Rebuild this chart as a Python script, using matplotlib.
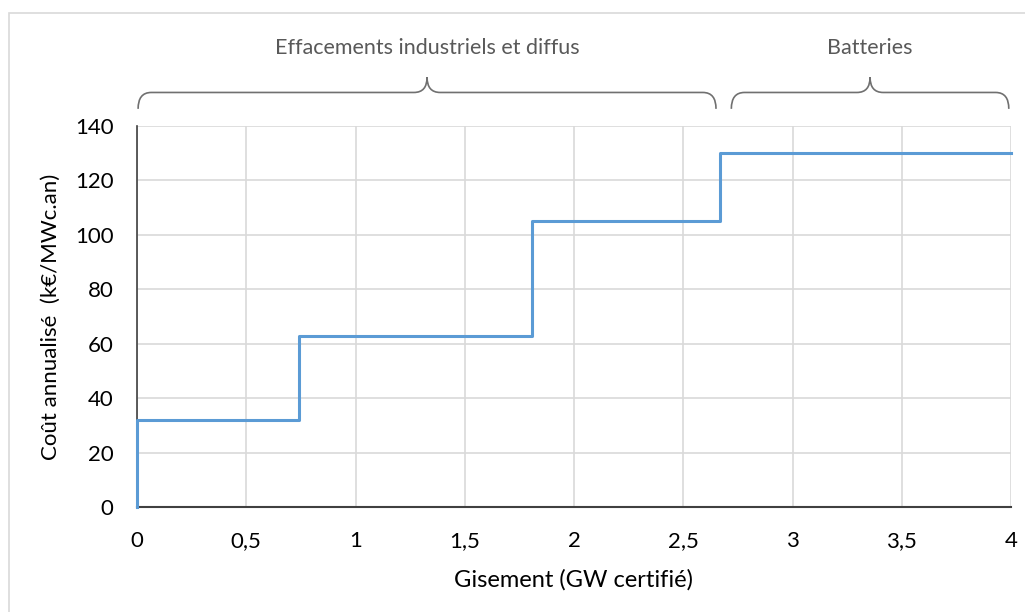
import numpy as np
import matplotlib.pyplot as plt
from matplotlib.path import Path
from matplotlib.patches import PathPatch, Rectangle
import matplotlib.transforms as mtransforms

# Data
step_x = [0, 0.74, 1.81, 2.67, 4]
step_y = [32, 63, 105, 130, 130]
x_ticks = [0, 0.5, 1, 1.5, 2, 2.5, 3, 3.5, 4]
x_labels = ["0", "0,5", "1", "1,5", "2", "2,5", "3", "3,5", "4"]
y_ticks = [0, 20, 40, 60, 80, 100, 120, 140]
groups = ["Effacements industriels et diffus", "Batteries"]
group_spans = [(0.005, 2.65), (2.72, 3.99)]

plt.rcParams['font.family'] = ['Lato', 'DejaVu Sans']

fig = plt.figure(figsize=(10.25, 6.12), dpi=100)
ax = fig.add_axes([137 / 1025, 1 - 507 / 612, 874 / 1025, 381 / 612])

# outer frame (only left and top edges visible)
fig.patches.append(Rectangle((9 / 1025, -0.1), 1.2, 1 - 13 / 612 + 0.1,
                             transform=fig.transFigure, fill=False,
                             edgecolor="#d9d9d9", linewidth=1.2))

# step curve, starting from (0, 0)
ax.step([0] + step_x, [0] + step_y, where="post", color="#5b9bd5",
        linewidth=2.2, zorder=3, clip_on=False)

ax.set_xlim(0, 4)
ax.set_ylim(0, 140)
ax.set_xticks(x_ticks)
ax.set_xticklabels(x_labels)
ax.set_yticks(y_ticks)
ax.grid(True, color="#d9d9d9", linewidth=1.2)
ax.set_axisbelow(True)
ax.tick_params(length=0, labelsize=16)
ax.tick_params(axis="x", pad=17)
ax.tick_params(axis="y", pad=17)
for s in ["top", "right"]:
    ax.spines[s].set_visible(False)
ax.spines["left"].set_color("#404040")
ax.spines["bottom"].set_color("#404040")
ax.spines["left"].set_linewidth(1.2)
ax.spines["bottom"].set_linewidth(1.5)

ax.set_xlabel("Gisement (GW certifié)", fontsize=17, labelpad=13)
ax.set_ylabel("Coût annualisé  (k€/MWc.an)", fontsize=16, labelpad=10)

# curly braces above the plot (x in data, y in axes)
trans = mtransforms.blended_transform_factory(ax.transData, ax.transAxes)
yb, yl, yt = 1.045, 1.088, 1.128
rx = 0.06
for (x0, x1), label in zip(group_spans, groups):
    xm = (x0 + x1) / 2
    verts = [(x0, yb), (x0, yl), (x0 + rx, yl),
             (xm - rx, yl), (xm, yl), (xm, yt),
             (xm, yl), (xm + rx, yl),
             (x1 - rx, yl), (x1, yl), (x1, yb)]
    codes = [Path.MOVETO, Path.CURVE3, Path.CURVE3,
             Path.LINETO, Path.CURVE3, Path.CURVE3,
             Path.CURVE3, Path.CURVE3,
             Path.LINETO, Path.CURVE3, Path.CURVE3]
    ax.add_patch(PathPatch(Path(verts, codes), transform=trans, fill=False,
                           edgecolor="#707070", linewidth=1.2, clip_on=False))
    ax.text(xm, 1.205, label, transform=trans, ha="center", va="center",
            fontsize=15.5, color="#595959")

fig.savefig("out.png", dpi=100)
